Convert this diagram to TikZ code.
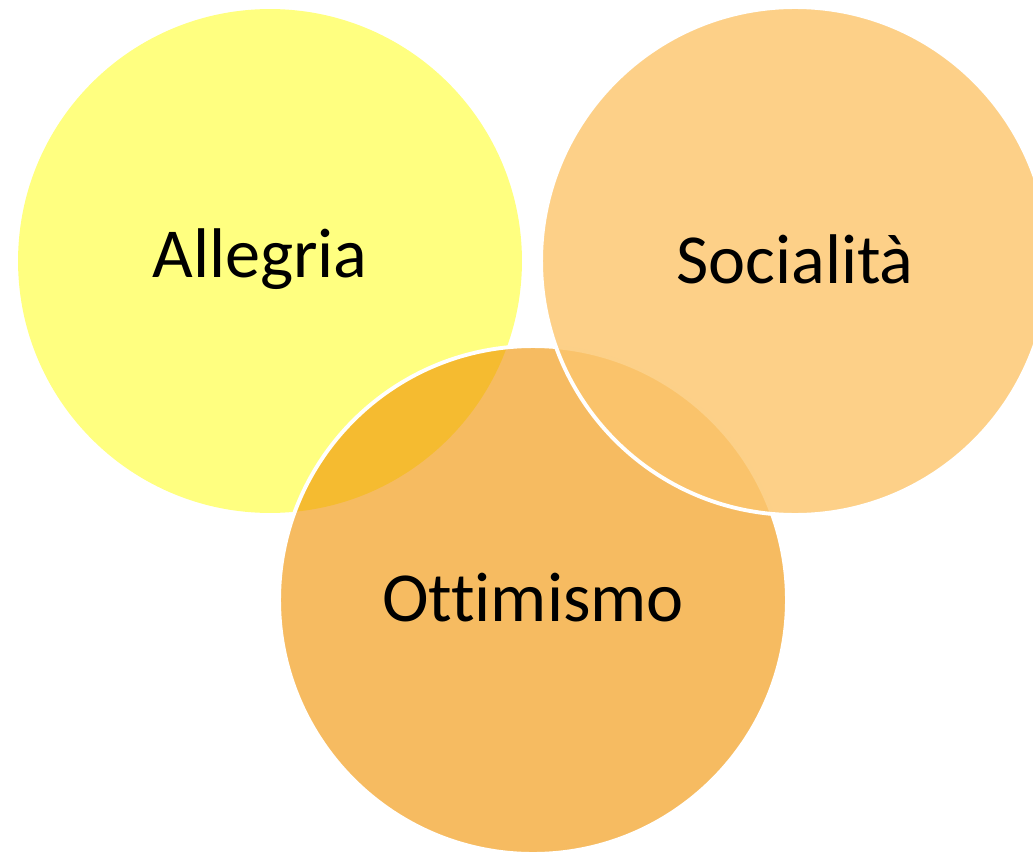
\documentclass[tikz,border=0pt]{standalone}
\usepackage{fontspec}
\setmainfont{Carlito}[Ligatures=NoCommon]
\usepackage{xcolor}
\definecolor{Lemon}{RGB}{255,255,128}
\definecolor{Apricot}{RGB}{252,198,110}
\definecolor{Amber}{RGB}{240,146,0}
\colorlet{cAllegria}{Lemon}
\colorlet{cSocialita}{Apricot}
\colorlet{cOttimismo}{Amber}
\usepackage{tikz}
\usetikzlibrary{positioning}
\tikzset{
	font = \fontsize{40}{48}\selectfont,
	bubble/.style={
		circle,
		minimum size=10.08cm,
		inner sep=0pt,
		line width=2.2pt,
		text opacity=1,
		text=black
	},
	rim/.style={
		draw=white,
		minimum size=10.16cm
	}
}

\begin{document}
\begin{tikzpicture}[x=.02cm, y=-.02cm]
		\useasboundingbox (0,0) rectangle (1033,851);

		% the three circles, back to front
		\node[bubble, fill=cAllegria] (allegria) at (270,261) {};
		\node[bubble, rim, fill=cOttimismo, fill opacity=.62] (ottimismo) at (533,600) {};
		\node[bubble, rim, fill=cSocialita, fill opacity=.82] (socialita) at (795,261) {};

		% labels
		\node (tAllegria) at ([xshift=-.2cm, yshift=.04cm]allegria.center) {Allegria};
		\node (tSocialita) at ([yshift=.04cm]socialita.center) {Socialità};
		\node (tOttimismo) at ([yshift=.04cm]ottimismo.center) {Ottimismo};
	\end{tikzpicture}
\end{document}
